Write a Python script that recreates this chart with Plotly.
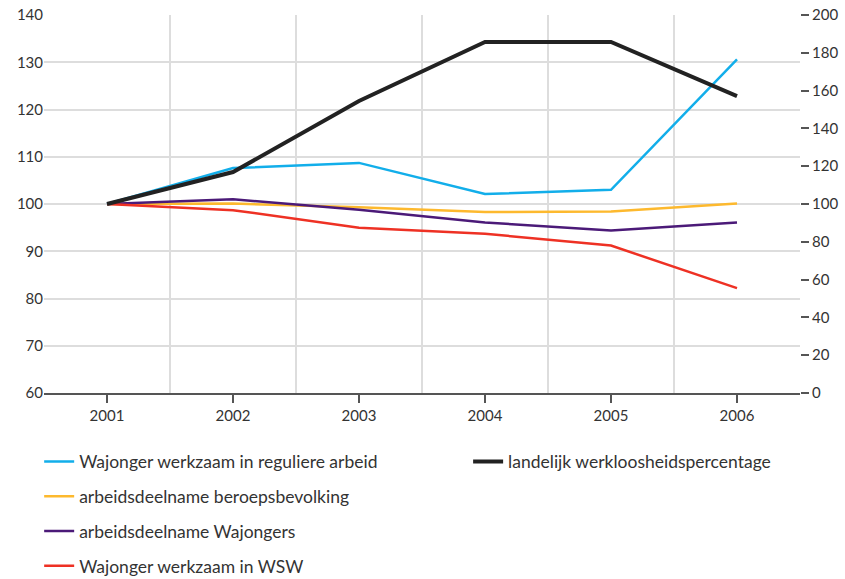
import plotly.graph_objects as go

years = [2001, 2002, 2003, 2004, 2005, 2006]
regulier = [100, 107.6, 108.7, 102.1, 103.0, 130.6]
beroepsbevolking = [100, 100.1, 99.3, 98.3, 98.4, 100.1]
wajongers = [100, 101.0, 98.8, 96.1, 94.4, 96.1]
wsw = [100, 98.7, 95.0, 93.7, 91.2, 82.2]
werkloosheid = [100, 116.9, 154.5, 185.7, 185.7, 157.1]

FONT = "Lato"
TXT = "#333333"

fig = go.Figure()
fig.add_trace(go.Scatter(x=years, y=werkloosheid, name="landelijk werkloosheidspercentage",
                         mode="lines", line=dict(color="#222222", width=4), yaxis="y2",
                         legend="legend2"))
fig.add_trace(go.Scatter(x=years, y=regulier, name="Wajonger werkzaam in reguliere arbeid",
                         mode="lines", line=dict(color="#12AEEA", width=2.5), legendgroup="a"))
fig.add_trace(go.Scatter(x=years, y=beroepsbevolking, name="arbeidsdeelname beroepsbevolking",
                         mode="lines", line=dict(color="#FDB92E", width=2.5), legendgroup="b"))
fig.add_trace(go.Scatter(x=years, y=wajongers, name="arbeidsdeelname Wajongers",
                         mode="lines", line=dict(color="#4B1A78", width=2.5), legendgroup="c"))
fig.add_trace(go.Scatter(x=years, y=wsw, name="Wajonger werkzaam in WSW",
                         mode="lines", line=dict(color="#EE3124", width=2.5), legendgroup="d"))

fig.update_layout(
    width=845, height=579,
    margin=dict(l=44, r=45, t=15, b=186, autoexpand=False),
    plot_bgcolor="white", paper_bgcolor="white",
    font=dict(family=FONT, size=15, color=TXT),
    xaxis=dict(range=[2000.5, 2006.5], tickvals=years, ticktext=[str(y) for y in years],
               showgrid=False, zeroline=False, automargin=False, ticklabeloverflow="allow",
               showline=True, linecolor="#555555", linewidth=2,
               ticks="outside", ticklen=8, tickwidth=1.5, tickcolor="#555555",
               minor=dict(tickvals=[2000.5, 2001.5, 2002.5, 2003.5, 2004.5, 2005.5],
                          showgrid=True, gridcolor="#DDDDDD", gridwidth=1.5, ticks="")),
    yaxis=dict(range=[60, 140], dtick=10, showgrid=True, gridcolor="#DDDDDD", gridwidth=1.5,
               zeroline=False, showline=False, ticks="", automargin=False,
               ticklabeloverflow="allow"),
    yaxis2=dict(range=[0, 200], dtick=20, overlaying="y", side="right", showgrid=False,
                zeroline=False, showline=False, ticks="outside", ticklen=8, tickwidth=1.5,
                tickcolor="#555555", automargin=False, ticklabeloverflow="allow"),
    legend=dict(x=-0.0064, y=-0.134, xref="paper", yref="paper", xanchor="left", yanchor="top",
                orientation="v", tracegroupgap=9, font=dict(family=FONT, size=17.5, color=TXT),
                traceorder="grouped"),
    legend2=dict(x=0.561, y=-0.134, xref="paper", yref="paper", xanchor="left", yanchor="top",
                 orientation="v", font=dict(family=FONT, size=17.5, color=TXT)),
    showlegend=True,
)

fig.write_html("out.html", config={"displayModeBar": False},
               post_script="document.body.style.margin='0';")
